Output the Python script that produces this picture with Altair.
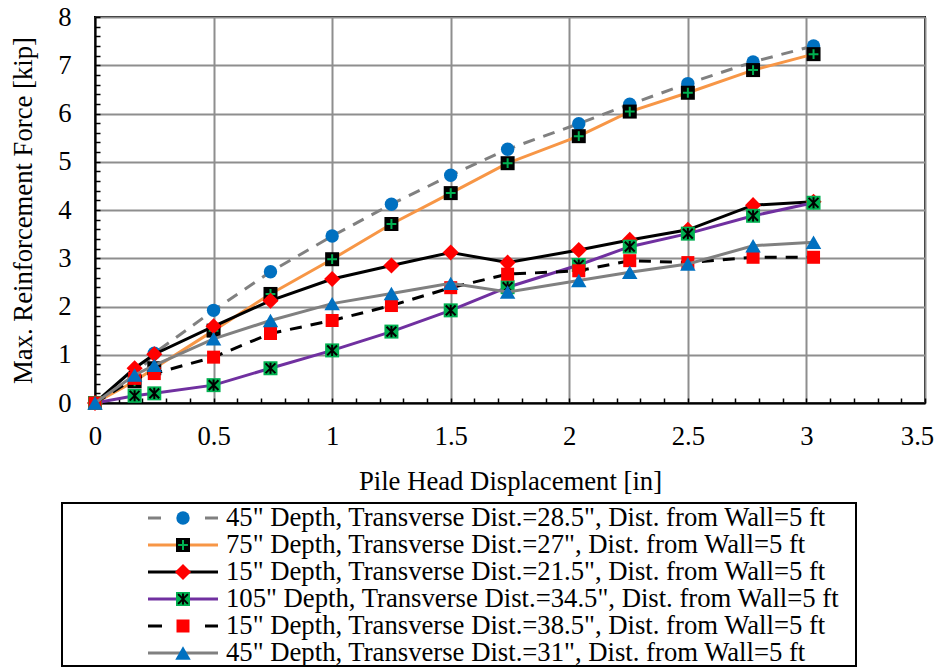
import altair as alt
import pandas as pd

# ---------------- data ----------------
x_disp = [0, 0.167, 0.25, 0.5, 0.74, 1.0, 1.25, 1.5, 1.74, 2.04, 2.255, 2.5, 2.775, 3.03]

names = [
    '45" Depth, Transverse Dist.=28.5", Dist. from Wall=5 ft',
    '75" Depth, Transverse Dist.=27", Dist. from Wall=5 ft',
    '15" Depth, Transverse Dist.=21.5", Dist. from Wall=5 ft',
    '105" Depth, Transverse Dist.=34.5", Dist. from Wall=5 ft',
    '15" Depth, Transverse Dist.=38.5", Dist. from Wall=5 ft',
    '45" Depth, Transverse Dist.=31", Dist. from Wall=5 ft',
]

f_45_285 = [0, 0.55, 1.03, 1.92, 2.72, 3.46, 4.12, 4.72, 5.26, 5.79, 6.19, 6.62, 7.07, 7.40]
f_75_27 = [0, 0.45, 0.72, 1.50, 2.26, 2.98, 3.71, 4.35, 4.97, 5.53, 6.04, 6.43, 6.90, 7.23]
f_15_215 = [0, 0.72, 1.01, 1.59, 2.12, 2.57, 2.85, 3.12, 2.91, 3.17, 3.38, 3.59, 4.10, 4.17]
f_105_345 = [0, 0.15, 0.20, 0.37, 0.72, 1.09, 1.48, 1.92, 2.40, 2.86, 3.24, 3.51, 3.88, 4.15]
f_15_385 = [0, 0.51, 0.61, 0.95, 1.44, 1.71, 2.02, 2.39, 2.67, 2.74, 2.95, 2.91, 3.02, 3.02]
f_45_31 = [0, 0.58, 0.78, 1.33, 1.71, 2.06, 2.27, 2.48, 2.30, 2.54, 2.71, 2.88, 3.26, 3.33]

series_values = [f_45_285, f_75_27, f_15_215, f_105_345, f_15_385, f_45_31]

x_ticks = [0, 0.5, 1, 1.5, 2, 2.5, 3, 3.5]
y_ticks = [0, 1, 2, 3, 4, 5, 6, 7, 8]
x_minor = [round(i * 0.1, 1) for i in range(36)]
y_minor = [round(i * 0.2, 1) for i in range(41)]

# ---------------- styles ----------------
FONT = "Liberation Serif"
FS = 26.7
line_colors = ["#808080", "#F79646", "#000000", "#7030A0", "#000000", "#808080"]
line_dash = [[12, 9], None, None, None, [12, 9], None]
legend_dash = [[13, 44], None, None, None, [14, 43], None]

PLUS = "M-0.7,0L0.7,0M0,-0.7L0,0.7"
STAR = "M-0.7,-0.7L0.7,0.7M0.7,-0.7L-0.7,0.7M0,-0.8L0,0.8"

markers = [
    [dict(shape="circle", size=180, filled=True, color="#0070C0")],
    [dict(shape="square", size=196, filled=True, color="#000000"),
     dict(shape=PLUS, size=196, filled=False, color="#00B050", strokeWidth=2)],
    [dict(shape="diamond", size=260, filled=True, color="#FF0000")],
    [dict(shape="square", size=196, filled=True, color="#00B050"),
     dict(shape=STAR, size=196, filled=False, color="#000000", strokeWidth=2)],
    [dict(shape="square", size=169, filled=True, color="#FF0000")],
    [dict(shape="triangle-up", size=240, filled=True, color="#0070C0")],
]

W, H = 830, 386
PAD_TOP = 9

x_scale = alt.Scale(domain=[0, 3.5], nice=False, zero=False)
y_scale = alt.Scale(domain=[0, 8], nice=False, zero=False)

common_axis = dict(
    grid=True, gridColor="#8E8E8E", gridWidth=2, ticks=False,
    domain=True, domainColor="black", domainWidth=2,
    labelFont=FONT, labelFontSize=FS, labelColor="black",
    titleFont=FONT, titleFontSize=FS, titleFontWeight="normal", titleColor="black",
    labelFlush=False, labelOverlap=False,
)

X_enc = alt.X("disp:Q", scale=x_scale, axis=alt.Axis(
    values=x_ticks, format="~g", title="Pile Head Displacement [in]",
    labelPadding=20, titlePadding=19,
    labelOffset={"condition": {"test": "datum.value == 3.5", "value": -8}, "value": 0},
    **common_axis))
Y_enc = alt.Y("force:Q", scale=y_scale, axis=alt.Axis(
    values=y_ticks, format="d", title="Max. Reinforcement Force [kip]",
    labelPadding=24, titlePadding=20, **common_axis))

data_layers = []
legend_layers = []

# legend geometry (in plot coordinates)
OFF = 15 - (8 + PAD_TOP)
LEG_ROW0 = 503 + OFF
LEG_DY = 27
LEG_X1, LEG_X2, LEG_XM, LEG_TX = 53, 123, 88, 131

box_df = pd.DataFrame({"x1": [-33], "x2": [761], "y1": [488 + OFF], "y2": [651 + OFF]})
legend_layers.append(
    alt.Chart(box_df).mark_rect(fill="white", stroke="black", strokeWidth=2).encode(
        x=alt.X("x1:Q", scale=None, axis=None), x2="x2:Q",
        y=alt.Y("y1:Q", scale=None, axis=None), y2="y2:Q")
)

for i, (name, vals) in enumerate(zip(names, series_values)):
    df = pd.DataFrame({"disp": x_disp, "force": vals, "series": name})
    lkw = dict(color=line_colors[i], strokeWidth=3)
    if line_dash[i] is not None:
        lkw["strokeDash"] = line_dash[i]
    data_layers.append(alt.Chart(df).mark_line(**lkw).encode(x=X_enc, y=Y_enc))
    for m in markers[i]:
        data_layers.append(
            alt.Chart(df).mark_point(opacity=1, **m).encode(x=X_enc, y=Y_enc))

    ldf = pd.DataFrame({
        "series": [name],
        "lx1": [LEG_X1], "lx2": [LEG_X2], "lxm": [LEG_XM], "tx": [LEG_TX],
        "ly": [LEG_ROW0 + i * LEG_DY],
    })
    rkw = dict(color=line_colors[i], strokeWidth=3)
    if legend_dash[i] is not None:
        rkw["strokeDash"] = legend_dash[i]
    legend_layers.append(alt.Chart(ldf).mark_rule(**rkw).encode(
        x=alt.X("lx1:Q", scale=None, axis=None), x2="lx2:Q",
        y=alt.Y("ly:Q", scale=None, axis=None)))
    for m in markers[i]:
        legend_layers.append(alt.Chart(ldf).mark_point(opacity=1, **m).encode(
            x=alt.X("lxm:Q", scale=None, axis=None),
            y=alt.Y("ly:Q", scale=None, axis=None)))
    legend_layers.append(alt.Chart(ldf).mark_text(
        align="left", baseline="middle", font=FONT, fontSize=FS, color="black").encode(
        x=alt.X("tx:Q", scale=None, axis=None),
        y=alt.Y("ly:Q", scale=None, axis=None),
        text="series:N"))

all_df = pd.DataFrame({"disp": x_disp, "force": f_45_285})
minor_axis = dict(tickColor="black", tickWidth=1.5, tickSize=5, offset=-5,
                  labels=False, domain=False, grid=False, title="")
minor = alt.Chart(all_df).mark_point(opacity=0).encode(
    x=alt.X("disp:Q", scale=x_scale, axis=alt.Axis(values=x_minor, orient="bottom", **minor_axis)),
    y=alt.Y("force:Q", scale=y_scale, axis=alt.Axis(values=y_minor, orient="left", **minor_axis)),
)

main = alt.layer(*data_layers)
legend = alt.layer(*legend_layers)

chart = alt.layer(main, minor, legend).resolve_scale(
    x="independent", y="independent"
).properties(
    width=W, height=H,
    autosize=alt.AutoSizeParams(type="none"),
    padding={"left": 87, "top": PAD_TOP, "right": 10, "bottom": 266},
).configure_view(stroke="black", strokeWidth=2)

chart.save("out.html", embed_options={"renderer": "svg", "actions": False})
